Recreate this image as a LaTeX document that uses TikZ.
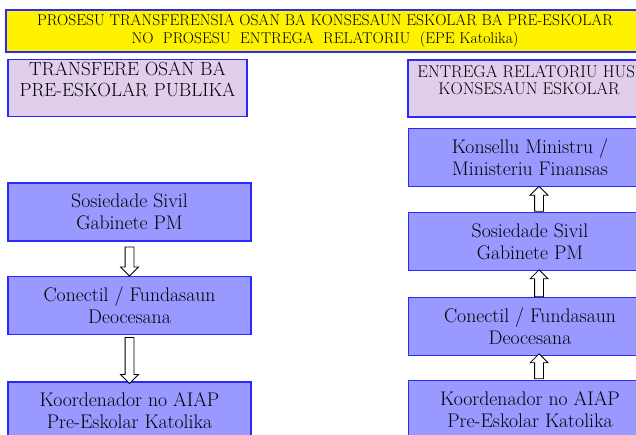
\documentclass[tikz,border=0pt]{standalone}
\usepackage{fontspec}
\usetikzlibrary{shapes,positioning,arrows,calc}
\definecolor{boxblue}{RGB}{153,153,255}
\definecolor{lavender}{RGB}{224,206,236}
\definecolor{edgeblue}{RGB}{40,40,255}
\begin{document}
\begin{tikzpicture}[x=1pt,y=-1pt,
    titlebox/.style={draw=edgeblue,fill=yellow,line width=1.2pt,minimum width=638pt,minimum height=42pt,align=center,font=\fontsize{15.6}{17.5}\selectfont,inner sep=0pt},
    headbox/.style={draw=edgeblue,fill=lavender,line width=1.2pt,minimum height=57pt,align=center,inner sep=0pt},
    stepbox/.style={draw=edgeblue,fill=boxblue,line width=1.2pt,minimum width=243pt,minimum height=58pt,align=center,font=\fontsize{19.7}{22}\selectfont,inner sep=0pt},
    blockarrow/.style={single arrow,draw=black,fill=white,line width=0.8pt,minimum width=17pt,single arrow head extend=4.5pt,single arrow tip angle=90,inner sep=4pt}]
        \useasboundingbox (0,0) rectangle (636,434);
        \clip (0,0) rectangle (636,434);
        \node[titlebox] (title) at (325,31) {PROSESU TRANSFERENSIA OSAN BA KONSESAUN ESKOLAR BA PRE-ESKOLAR\\NO\ \ PROSESU\ \ ENTREGA\ \ RELATORIU\ \ (EPE Katolika)};
        \node[headbox,minimum width=239pt,font=\fontsize{19}{21}\selectfont] (transfere) at (127.5,88) {TRANSFERE OSAN BA\\PRE-ESKOLAR PUBLIKA\\[-4pt]};
        \node[headbox,minimum width=238pt] (entrega) at (527,88.5) {};
        \node[align=center,font=\fontsize{17}{17.5}\selectfont,inner sep=0pt] (entregatext) at (529,80) {ENTREGA RELATORIU HUSI\\KONSESAUN ESKOLAR};
        \node[stepbox] (sosiedadeL) at (129.5,212) {Sosiedade Sivil\\Gabinete PM};
        \node[stepbox] (conectilL) at (129.5,305.5) {Conectil / Fundasaun\\Deocesana};
        \node[stepbox] (koordenadorL) at (129.5,411) {Koordenador no AIAP\\Pre-Eskolar Katolika};
        \node[stepbox] (konselluR) at (530,157.5) {Konsellu Ministru /\\Ministeriu Finansas};
        \node[stepbox] (sosiedadeR) at (530,241.5) {Sosiedade Sivil\\Gabinete PM};
        \node[stepbox] (conectilR) at (530,326.5) {Conectil / Fundasaun\\Deocesana};
        \node[stepbox] (koordenadorR) at (530,409.5) {Koordenador no AIAP\\Pre-Eskolar Katolika};
        \path (sosiedadeL.south) -- node[blockarrow,shape border rotate=270,minimum height=29pt,yshift=-0.5pt] (arrowL1) {} (conectilL.north);
        \path (conectilL.south) -- node[blockarrow,shape border rotate=270,minimum height=46pt] (arrowL2) {} (koordenadorL.north);
        \path (sosiedadeR.north) -- node[blockarrow,shape border rotate=90,minimum height=25pt,xshift=9pt,yshift=-1.5pt] (arrowR1) {} (konselluR.south);
        \path (conectilR.north) -- node[blockarrow,shape border rotate=90,minimum height=27pt,xshift=9pt,yshift=-1.5pt] (arrowR2) {} (sosiedadeR.south);
        \path (koordenadorR.north) -- node[blockarrow,shape border rotate=90,minimum height=25pt,xshift=9pt,yshift=-0.5pt] (arrowR3) {} (conectilR.south);
    \end{tikzpicture}
\end{document}
